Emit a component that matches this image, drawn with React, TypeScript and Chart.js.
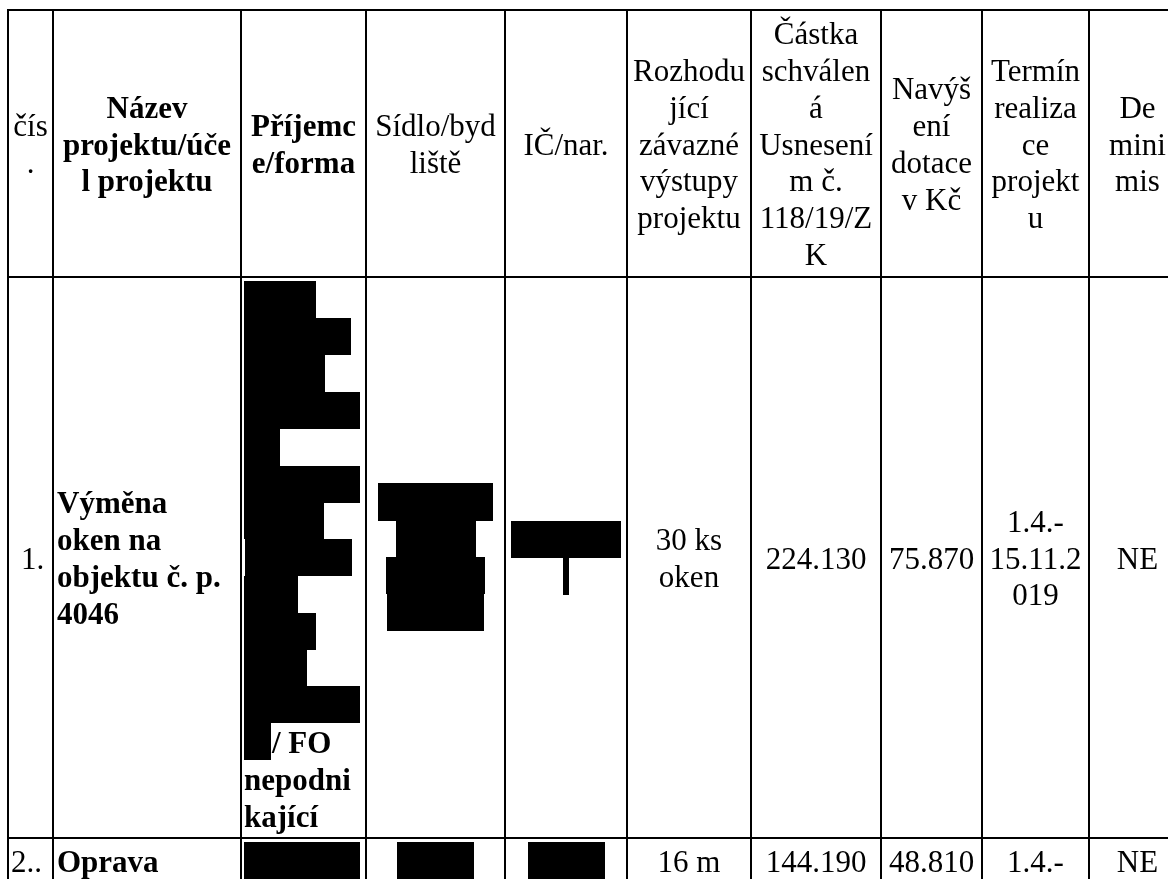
import { useEffect, useRef } from "react";
import { Chart, registerables } from "chart.js";

Chart.register(...registerables);

// ---------- DATA ----------
const headerLabels: string[][] = [
  ["čís", "."],
  ["Název", "projektu/úče", "l projektu"],
  ["Příjemc", "e/forma"],
  ["Sídlo/byd", "liště"],
  ["IČ/nar."],
  ["Rozhodu", "jící", "závazné", "výstupy", "projektu"],
  ["Částka", "schválen", "á", "Usnesení", "m č.", "118/19/Z", "K"],
  ["Navýš", "ení", "dotace", "v Kč"],
  ["Termín", "realiza", "ce", "projekt", "u"],
  ["De", "mini", "mis"],
];
const headerBold: boolean[] = [false, true, true, false, false, false, false, false, false, false];

const rowNumbers: string[] = ["1.", "2.."];
const projectNames: string[][] = [["Výměna", "oken na", "objektu č. p.", "4046"], ["Oprava"]];
const recipientForms: string[][] = [["/ FO", "nepodni", "kající"], []];
const projectOutputs: string[][] = [["30 ks", "oken"], ["16 m"]];
const approvedAmounts: string[] = ["224.130", "144.190"];
const subsidyIncreases: string[] = ["75.870", "48.810"];
const realizationTerms: string[][] = [["1.4.-", "15.11.2", "019"], ["1.4.-"]];
const deMinimis: string[] = ["NE", "NE"];

// ---------- LAYOUT (table geometry in scale units) ----------
const COL_EDGES = [8, 53, 241, 366, 505, 627, 751, 881, 982, 1089, 1186];
const ROW_EDGES = [10, 277, 838, 1000];
const LINE_H = 36.9;
const BASELINE = 29.5;
const FONT_SIZE = 31;
const FONT_FAMILY = '"Liberation Serif", "Times New Roman", serif';

// redaction boxes [x0, y0, x1, y1]
const redactions: number[][] = [
  [244, 281, 316, 318],
  [244, 318, 351, 355],
  [244, 355, 325, 392],
  [244, 392, 360, 429],
  [244, 429, 280, 466],
  [244, 466, 360, 503],
  [244, 503, 324, 539],
  [245, 539, 352, 576],
  [244, 576, 298, 613],
  [244, 613, 316, 650],
  [244, 650, 307, 686],
  [244, 686, 360, 723],
  [244, 723, 271, 760],
  [378, 483, 493, 521],
  [396, 521, 476, 557],
  [386, 557, 485, 594],
  [387, 594, 484, 631],
  [511, 521, 621, 558],
  [563, 558, 569, 595],
  [244, 842, 360, 890],
  [397, 842, 474, 890],
  [528, 842, 605, 890],
];

type Cell = {
  lines: string[];
  col: number;
  bold?: boolean;
  align: "left" | "center";
  x?: number;
  top: number;
  indents?: number[];
};

function blockTop(center: number, n: number) {
  return center - (n * LINE_H) / 2;
}

function buildCells(): Cell[] {
  const cells: Cell[] = [];
  const hMid = (ROW_EDGES[0] + ROW_EDGES[1]) / 2;
  headerLabels.forEach((lines, i) => {
    cells.push({ lines, col: i, bold: headerBold[i], align: "center", top: blockTop(hMid, lines.length) });
  });
  const r1 = (ROW_EDGES[1] + ROW_EDGES[2]) / 2;
  cells.push({ lines: [rowNumbers[0]], col: 0, align: "left", x: 21, top: blockTop(r1, 1) });
  cells.push({ lines: projectNames[0], col: 1, bold: true, align: "left", x: 57, top: blockTop(r1, projectNames[0].length) });
  const recLines = Array(12).fill("").concat(recipientForms[0]);
  cells.push({
    lines: recLines,
    col: 2,
    bold: true,
    align: "left",
    x: 244,
    top: blockTop(r1, recLines.length),
    indents: recLines.map((_, i) => (i === 12 ? 28 : 0)),
  });
  cells.push({ lines: projectOutputs[0], col: 5, align: "center", top: blockTop(r1, projectOutputs[0].length) });
  cells.push({ lines: [approvedAmounts[0]], col: 6, align: "center", top: blockTop(r1, 1) });
  cells.push({ lines: [subsidyIncreases[0]], col: 7, align: "center", top: blockTop(r1, 1) });
  cells.push({ lines: realizationTerms[0], col: 8, align: "center", top: blockTop(r1, realizationTerms[0].length) });
  cells.push({ lines: [deMinimis[0]], col: 9, align: "center", top: blockTop(r1, 1) });
  const r2 = ROW_EDGES[2] + 4;
  cells.push({ lines: [rowNumbers[1]], col: 0, align: "left", x: 11, top: r2 });
  cells.push({ lines: projectNames[1], col: 1, bold: true, align: "left", x: 57, top: r2 });
  cells.push({ lines: projectOutputs[1], col: 5, align: "center", top: r2 });
  cells.push({ lines: [approvedAmounts[1]], col: 6, align: "center", top: r2 });
  cells.push({ lines: [subsidyIncreases[1]], col: 7, align: "center", top: r2 });
  cells.push({ lines: realizationTerms[1], col: 8, align: "center", top: r2 });
  cells.push({ lines: [deMinimis[1]], col: 9, align: "center", top: r2 });
  return cells;
}

const tablePlugin = {
  id: "tableDraw",
  afterDraw(chart: any) {
    const ctx: CanvasRenderingContext2D = chart.ctx;
    const sx = chart.scales.x;
    const sy = chart.scales.y;
    const px = (v: number) => sx.getPixelForValue(v);
    const py = (v: number) => sy.getPixelForValue(v);
    ctx.save();
    ctx.fillStyle = "#ffffff";
    ctx.fillRect(0, 0, chart.width, chart.height);

    ctx.fillStyle = "#000000";
    redactions.forEach(([x0, y0, x1, y1]) => {
      const a = px(x0), b = py(y0), c = px(x1), d = py(y1);
      ctx.fillRect(a, b, c - a, d - b);
    });

    ctx.strokeStyle = "#000000";
    ctx.lineWidth = 2;
    ctx.beginPath();
    const left = COL_EDGES[0], right = COL_EDGES[COL_EDGES.length - 1];
    const topY = ROW_EDGES[0], botY = ROW_EDGES[ROW_EDGES.length - 1];
    COL_EDGES.forEach((x) => {
      ctx.moveTo(px(x), py(topY) - 1);
      ctx.lineTo(px(x), py(botY));
    });
    ROW_EDGES.forEach((y) => {
      ctx.moveTo(px(left) - 1, py(y));
      ctx.lineTo(px(right) + 1, py(y));
    });
    ctx.stroke();

    ctx.fillStyle = "#000000";
    ctx.textBaseline = "alphabetic";
    buildCells().forEach((cell) => {
      ctx.font = `${cell.bold ? "bold " : ""}${FONT_SIZE}px ${FONT_FAMILY}`;
      const cx = (COL_EDGES[cell.col] + COL_EDGES[cell.col + 1]) / 2;
      cell.lines.forEach((t, i) => {
        if (!t) return;
        const y = py(cell.top + i * LINE_H + BASELINE);
        if (cell.align === "center") {
          ctx.textAlign = "center";
          ctx.fillText(t, px(cx), y);
        } else {
          ctx.textAlign = "left";
          const ind = cell.indents ? cell.indents[i] : 0;
          ctx.fillText(t, px((cell.x ?? COL_EDGES[cell.col]) + ind), y);
        }
      });
    });
    ctx.restore();
  },
};

export default function App() {
  const ref = useRef<HTMLCanvasElement | null>(null);
  useEffect(() => {
    if (!ref.current) return;
    const chart = new Chart(ref.current, {
      type: "scatter",
      data: { datasets: [{ data: [], pointRadius: 0 }] },
      options: {
        animation: false,
        responsive: false,
        maintainAspectRatio: false,
        layout: { padding: 0 },
        plugins: { legend: { display: false }, tooltip: { enabled: false } },
        scales: {
          x: { type: "linear", min: 0, max: 1168, display: false },
          y: { type: "linear", min: 0, max: 879, reverse: true, display: false },
        },
      },
      plugins: [tablePlugin],
    });
    return () => chart.destroy();
  }, []);
  return (
    <div style={{ position: "fixed", left: 0, top: 0, width: 1168, height: 879, background: "#fff" }}>
      <canvas ref={ref} width={1168} height={879} style={{ display: "block", width: 1168, height: 879 }} />
    </div>
  );
}
